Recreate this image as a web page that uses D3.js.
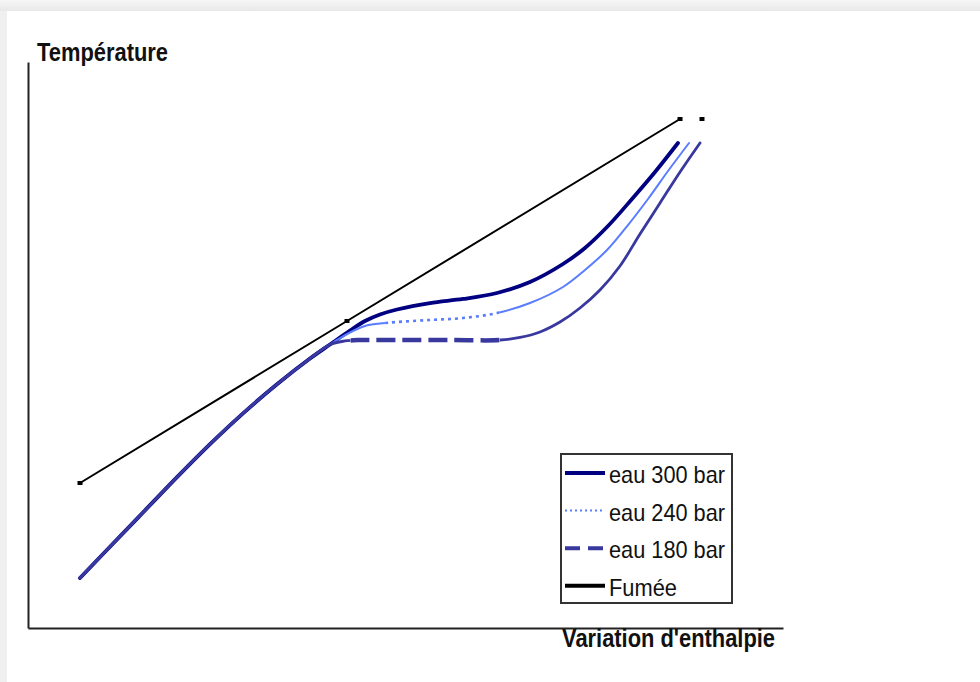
<!DOCTYPE html>
<html>
<head>
<meta charset="utf-8">
<script src="https://cdn.jsdelivr.net/npm/d3@7"></script>
<style>
  html, body { margin: 0; padding: 0; background: #f0f0f0; }
  svg { display: block; }
</style>
</head>
<body>
<svg id="chart" width="980" height="682"></svg>
<script>
// ---------- DATA (arbitrary units: enthalpy 0-100, temperature 0-100) ----------
const commonH = [6.89, 10.86, 15.23, 19.74, 24.11, 28.48, 32.98, 37.35, 40.00];
const commonT = [8.83, 14.35, 20.41, 26.66, 32.49, 37.93, 43.07, 47.61, 50.09];

const h300 = [42.65, 44.64, 46.62, 48.87, 53.25, 57.62, 62.12, 66.49, 70.86, 73.77, 76.82, 80.00, 83.05, 86.09];
const t300 = [52.56, 54.24, 55.39, 56.27, 57.42, 58.13, 59.19, 61.13, 64.31, 67.14, 71.02, 75.80, 80.57, 85.69];

const h240 = [42.65, 44.64, 46.62, 48.87, 53.25, 57.62, 62.12, 66.49, 70.86, 73.77, 76.69, 79.47, 82.12, 84.77, 87.55];
const t240 = [52.21, 53.36, 53.80, 54.06, 54.42, 54.77, 55.65, 57.42, 60.25, 63.25, 66.78, 71.20, 75.80, 80.74, 85.69];

const h180 = [41.99, 43.97, 49.27, 55.89, 62.52, 65.17, 67.81, 70.46, 73.11, 75.76, 78.41, 81.06, 83.71, 86.36, 89.01];
const t180 = [50.71, 50.88, 50.88, 50.88, 50.88, 51.33, 52.30, 54.06, 56.54, 59.72, 63.96, 69.61, 75.09, 80.57, 85.69];

const fumeeH = [6.89, 42.25, 86.36];
const fumeeT = [25.62, 54.24, 89.93];
const fumeeEndH = [89.27];
const fumeeEndT = [89.93];

const seriesNames = ["eau 300 bar", "eau 240 bar", "eau 180 bar", "Fumée"];
const yTitle = "Température";
const xTitle = "Variation d'enthalpie";

// ---------- STYLES ----------
const styles = {
  "eau 300 bar": { color: "#000080", width: 3.8, dash: null, legendWidth: 4, legendDash: null },
  "eau 240 bar": { color: "#5a7cff", width: 2, dash: "3,4", dashFrom: 47.3, dashTo: 62.4, dashWidth: 2.6, legendWidth: 2, legendDash: "2,3" },
  "eau 180 bar": { color: "#38389f", width: 2.8, dash: "19,7", dashFrom: 42.7, dashTo: 62.5, dashWidth: 4.5, legendWidth: 4, legendDash: "15,8" },
  "Fumée":       { color: "#000000", width: 2, dash: null, legendWidth: 4, legendDash: null }
};

const zip = (a, b) => a.map((v, i) => [v, b[i]]);
const series = {
  "eau 300 bar": zip(commonH.concat(h300), commonT.concat(t300)),
  "eau 240 bar": zip(commonH.concat(h240), commonT.concat(t240)),
  "eau 180 bar": zip(commonH.concat(h180), commonT.concat(t180))
};

// ---------- LAYOUT ----------
const svg = d3.select("#chart");
const W = 980, H = 682;

const defs = svg.append("defs");
const grad = defs.append("linearGradient").attr("id", "topShade").attr("x1", 0).attr("y1", 0).attr("x2", 0).attr("y2", 1);
grad.append("stop").attr("offset", "0%").attr("stop-color", "#f6f6f6");
grad.append("stop").attr("offset", "100%").attr("stop-color", "#e8e8e8");
svg.append("rect").attr("x", 0).attr("y", 0).attr("width", W).attr("height", H).attr("fill", "#f0f0f0");
svg.append("rect").attr("x", 0).attr("y", 0).attr("width", W).attr("height", 11).attr("fill", "url(#topShade)");
svg.append("rect").attr("x", 7).attr("y", 11).attr("width", W - 7).attr("height", H - 11).attr("fill", "#ffffff");

const x = d3.scaleLinear().domain([0, 100]).range([28, 783]);
const y = d3.scaleLinear().domain([0, 100]).range([628, 62]);

// axes (no ticks)
const gx = svg.append("g").attr("transform", `translate(0,${y(0)})`)
  .call(d3.axisBottom(x).tickValues([]).tickSizeOuter(0));
const gy = svg.append("g").attr("transform", `translate(${x(0)},0)`)
  .call(d3.axisLeft(y).tickValues([]).tickSizeOuter(0));
[gx, gy].forEach(g => g.select(".domain").attr("stroke", "#222").attr("stroke-width", 2));

// axis titles
svg.append("text").attr("x", 37).attr("y", 61)
  .attr("font-family", "Liberation Sans, Arial, sans-serif").attr("font-weight", "bold")
  .attr("font-size", 25).attr("fill", "#111")
  .attr("textLength", 131).attr("lengthAdjust", "spacingAndGlyphs")
  .text(yTitle);
svg.append("text").attr("x", 562).attr("y", 647)
  .attr("font-family", "Liberation Sans, Arial, sans-serif").attr("font-weight", "bold")
  .attr("font-size", 25).attr("fill", "#111")
  .attr("textLength", 213).attr("lengthAdjust", "spacingAndGlyphs")
  .text(xTitle);

// ---------- CURVES ----------
const line = d3.line().x(d => x(d[0])).y(d => y(d[1])).curve(d3.curveCatmullRom.alpha(0.5));
const plot = svg.append("g");

["eau 300 bar", "eau 240 bar", "eau 180 bar"].forEach((name, k) => {
  const st = styles[name];
  const data = series[name];
  if (!st.dash) {
    plot.append("path").datum(data).attr("d", line)
      .attr("fill", "none").attr("stroke", st.color).attr("stroke-width", st.width)
      .attr("stroke-linecap", "round");
    return;
  }
  const xa = x(st.dashFrom), xb = x(st.dashTo);
  const cs = defs.append("clipPath").attr("id", "solid" + k);
  cs.append("rect").attr("x", 0).attr("y", 0).attr("width", xa).attr("height", H);
  cs.append("rect").attr("x", xb).attr("y", 0).attr("width", W - xb).attr("height", H);
  const cd = defs.append("clipPath").attr("id", "dash" + k);
  cd.append("rect").attr("x", xa).attr("y", 0).attr("width", xb - xa).attr("height", H);

  plot.append("path").datum(data).attr("d", line)
    .attr("fill", "none").attr("stroke", st.color).attr("stroke-width", st.width)
    .attr("stroke-linecap", "round").attr("clip-path", `url(#solid${k})`);
  const dp = plot.append("path").datum(data).attr("d", line)
    .attr("fill", "none").attr("stroke", st.color).attr("stroke-width", st.dashWidth)
    .attr("stroke-dasharray", st.dash).attr("clip-path", `url(#dash${k})`);
  const node = dp.node();
  const total = node.getTotalLength();
  let lo = 0, hi = total;
  for (let i = 0; i < 40; i++) {
    const mid = (lo + hi) / 2;
    if (node.getPointAtLength(mid).x < xa) lo = mid; else hi = mid;
  }
  dp.attr("stroke-dashoffset", -lo);
});

// Fumée
const fumee = zip(fumeeH, fumeeT);
const lin = d3.line().x(d => x(d[0])).y(d => y(d[1]));
plot.append("path").datum(fumee).attr("d", lin)
  .attr("fill", "none").attr("stroke", "#000").attr("stroke-width", styles["Fumée"].width);
plot.selectAll(".fm").data(fumee.concat(zip(fumeeEndH, fumeeEndT))).enter().append("rect")
  .attr("x", d => x(d[0]) - 2.5).attr("y", d => y(d[1]) - 2)
  .attr("width", 5).attr("height", 4).attr("fill", "#000");

// ---------- LEGEND ----------
const lg = svg.append("g");
lg.append("rect").attr("x", 561).attr("y", 454).attr("width", 171).attr("height", 149)
  .attr("fill", "#fff").attr("stroke", "#333").attr("stroke-width", 2);
const legendTextWidths = { "eau 300 bar": 116, "eau 240 bar": 116, "eau 180 bar": 116, "Fumée": 68 };
seriesNames.forEach((name, i) => {
  const st = styles[name];
  const cy = 473 + i * 37.6;
  lg.append("line").attr("x1", 565).attr("x2", 605).attr("y1", cy).attr("y2", cy)
    .attr("stroke", st.color).attr("stroke-width", st.legendWidth)
    .attr("stroke-dasharray", st.legendDash);
  lg.append("text").attr("x", 609).attr("y", cy + 10)
    .attr("font-family", "Liberation Sans, Arial, sans-serif").attr("font-size", 24)
    .attr("fill", "#111")
    .attr("textLength", legendTextWidths[name]).attr("lengthAdjust", "spacingAndGlyphs")
    .text(name);
});
</script>
</body>
</html>
